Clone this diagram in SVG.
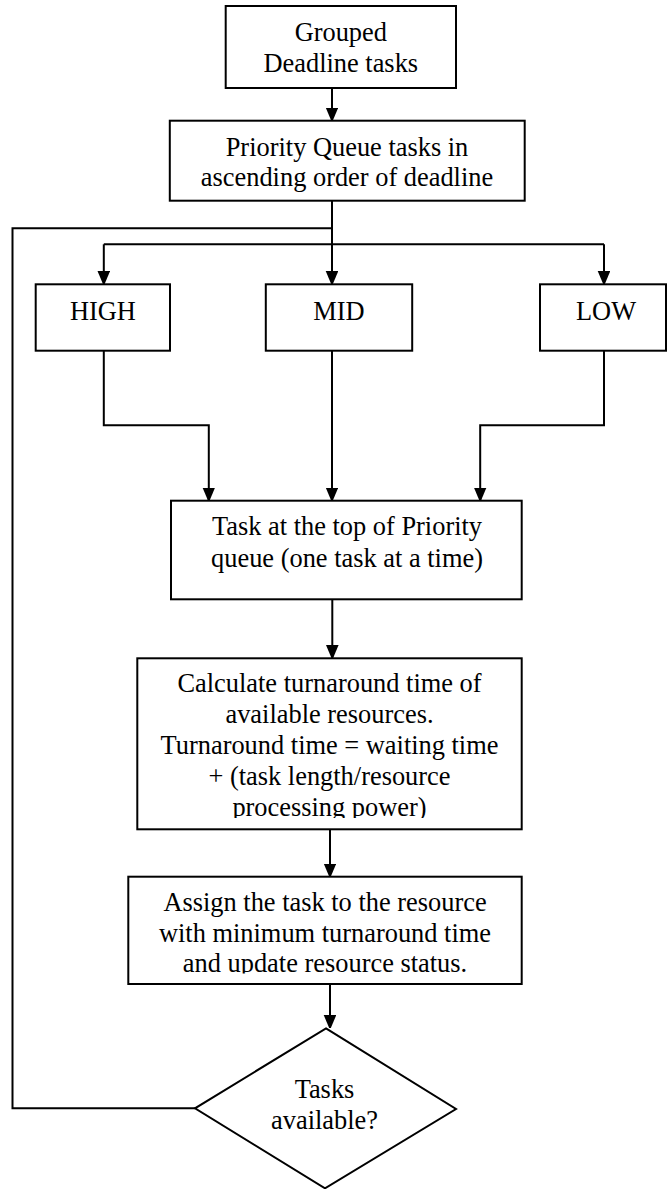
<svg xmlns="http://www.w3.org/2000/svg" width="667" height="1189" viewBox="0 0 667 1189">
<style>
.box{fill:#fff;stroke:#000;stroke-width:2}
.t{font-family:"Liberation Serif","Times New Roman",serif;font-size:26.4px;fill:#000;text-anchor:middle}
.c{fill:none;stroke:#000;stroke-width:2}
</style>
<defs>
<marker id="ah" markerWidth="13" markerHeight="16" refX="12.5" refY="6.3" orient="auto" markerUnits="userSpaceOnUse">
<path d="M0,0 L15,6.3 L0,12.6 Z" fill="#000"/>
</marker>
<clipPath id="clip4"><rect x="137" y="658" width="385" height="160"/></clipPath>
<clipPath id="clip5"><rect x="128" y="877" width="394" height="96.5"/></clipPath>
</defs>
<rect width="667" height="1189" fill="#fff"/>
<g id="connectors">
<path class="c" d="M332,88 V120" marker-end="url(#ah)"/>
<path class="c" d="M332,200.7 V283.5" marker-end="url(#ah)"/>
<path class="c" d="M103.8,244.3 H604"/>
<path class="c" d="M103.8,244.3 V283.5" marker-end="url(#ah)"/>
<path class="c" d="M604,244.3 V283.5" marker-end="url(#ah)"/>
<path class="c" d="M103.8,350.7 V425.3 H208.8 V500" marker-end="url(#ah)"/>
<path class="c" d="M332,350.7 V500" marker-end="url(#ah)"/>
<path class="c" d="M604,350.7 V425.3 H480.2 V500" marker-end="url(#ah)"/>
<path class="c" d="M332.3,599.3 V657.5" marker-end="url(#ah)"/>
<path class="c" d="M330,829.3 V876" marker-end="url(#ah)"/>
<path class="c" d="M330,984 V1027.5" marker-end="url(#ah)"/>
<path class="c" d="M195,1108.3 H12.5 V228.3 H332"/>
</g>
<g id="n1">
<rect class="box" x="225.7" y="6" width="230.3" height="82"/>
<text class="t" x="340.8" y="40.7">Grouped</text>
<text class="t" x="340.8" y="71.7">Deadline tasks</text>
</g>
<g id="n2">
<rect class="box" x="169.8" y="120.7" width="354.9" height="80"/>
<text class="t" x="347" y="155.7">Priority Queue tasks in</text>
<text class="t" x="347" y="185.5">ascending order of deadline</text>
</g>
<g id="high">
<rect class="box" x="35.7" y="284.3" width="134.3" height="66.4"/>
<text class="t" x="102.9" y="319.5">HIGH</text>
</g>
<g id="mid">
<rect class="box" x="265.8" y="284.3" width="146.4" height="66.4"/>
<text class="t" x="339" y="319.5">MID</text>
</g>
<g id="low">
<rect class="box" x="540" y="284.3" width="126" height="66.4"/>
<text class="t" x="606" y="319.5">LOW</text>
</g>
<g id="n3">
<rect class="box" x="171" y="500.7" width="350.7" height="98.6"/>
<text class="t" x="347" y="535">Task at the top of Priority</text>
<text class="t" x="347" y="566.7">queue (one task at a time)</text>
</g>
<g id="n4">
<rect class="box" x="137.3" y="658.3" width="384.4" height="171"/>
<g clip-path="url(#clip4)">
<text class="t" x="329.5" y="692">Calculate turnaround time of</text>
<text class="t" x="329.5" y="723">available resources.</text>
<text class="t" x="329.5" y="754">Turnaround time = waiting time</text>
<text class="t" x="329.5" y="785">+ (task length/resource</text>
<text class="t" x="329.5" y="815.5">processing power)</text>
</g>
</g>
<g id="n5">
<rect class="box" x="128.3" y="876.7" width="393.4" height="107.3"/>
<g clip-path="url(#clip5)">
<text class="t" x="325" y="910.7">Assign the task to the resource</text>
<text class="t" x="325" y="941.7">with minimum turnaround time</text>
<text class="t" x="325" y="972.3">and update resource status.</text>
</g>
</g>
<g id="decision">
<polygon class="box" points="326,1028.3 456,1109 325,1188.3 195,1108.3"/>
<text class="t" x="324.5" y="1098.3">Tasks</text>
<text class="t" x="324.5" y="1129">available?</text>
</g>
</svg>
